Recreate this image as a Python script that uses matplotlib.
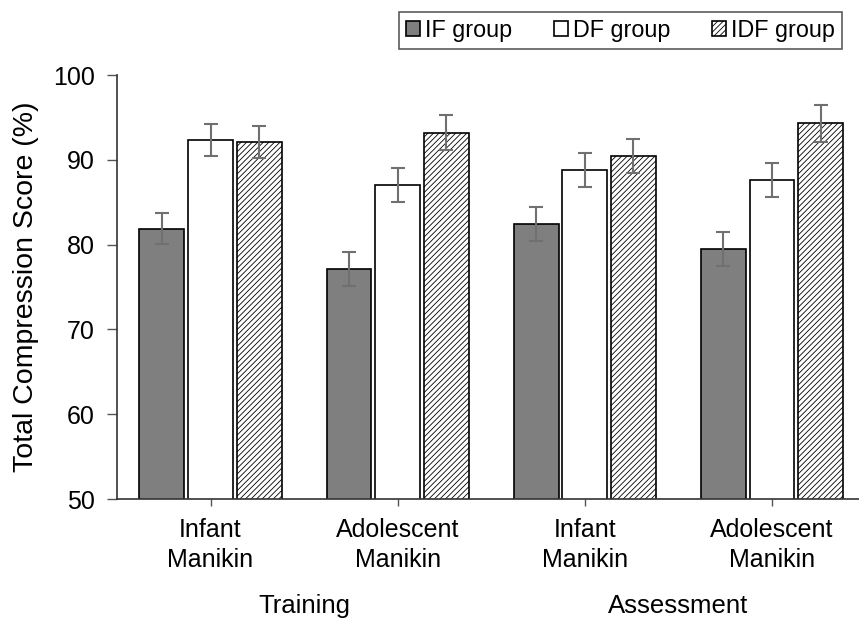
import matplotlib.pyplot as plt
import numpy as np

plt.rcParams["font.family"] = ["Liberation Sans", "DejaVu Sans"]
plt.rcParams["hatch.linewidth"] = 0.6

categories = ["Infant\nManikin", "Adolescent\nManikin", "Infant\nManikin", "Adolescent\nManikin"]
phases = ["Training", "Assessment"]
groups = ["IF group", "DF group", "IDF group"]

if_values = [81.9, 77.1, 82.4, 79.5]
df_values = [92.3, 87.0, 88.8, 87.6]
idf_values = [92.1, 93.2, 90.5, 94.3]

if_errors = [1.8, 2.0, 2.0, 2.0]
df_errors = [1.9, 2.0, 2.0, 2.0]
idf_errors = [1.9, 2.1, 2.0, 2.2]

fig = plt.figure(figsize=(8.59, 6.22), dpi=100)
ax = fig.add_axes([0.1362, 0.1977, 0.8714, 0.6817])

x = np.arange(len(categories))
width = 0.24
step = 0.26
styles = [
    dict(color="#7f7f7f", hatch=None),
    dict(color="white", hatch=None),
    dict(color="white", hatch="//////"),
]
series = [if_values, df_values, idf_values]
errors = [if_errors, df_errors, idf_errors]

handles = []
for i, (vals, errs, st) in enumerate(zip(series, errors, styles)):
    bars = ax.bar(x + (i - 1) * step, vals, width, bottom=0, color=st["color"],
                  edgecolor="black", linewidth=1.2, hatch=st["hatch"], label=groups[i],
                  yerr=errs, capsize=5,
                  error_kw=dict(ecolor="#707070", elinewidth=1.5, capthick=1.5))
    handles.append(bars)

ax.set_ylim(50, 100)
ax.set_xlim(-0.5, 3.5)
ax.set_yticks([50, 60, 70, 80, 90, 100])
ax.set_xticks(x)
ax.set_xticklabels(categories, fontsize=18, linespacing=1.3)
ax.tick_params(axis="y", labelsize=18, length=7, width=1, color="#555555", pad=9)
ax.tick_params(axis="x", length=5, width=1, color="#555555", pad=9)
ax.set_ylabel("Total Compression Score (%)", fontsize=20.5, labelpad=10)

for side in ["top", "right"]:
    ax.spines[side].set_visible(False)
for side in ["left", "bottom"]:
    ax.spines[side].set_color("#333333")
    ax.spines[side].set_linewidth(1.2)

for j, name in enumerate(phases):
    ax.text(2 * j + 0.5, -0.225, name, transform=ax.get_xaxis_transform(),
            ha="center", va="top", fontsize=18.5)

leg = fig.legend(handles=handles, loc="upper right", bbox_to_anchor=(0.980, 0.981),
                 ncol=3, fontsize=16.8, frameon=True, fancybox=False, edgecolor="#333333",
                 handlelength=0.6, handleheight=0.6, handletextpad=0.2,
                 columnspacing=1.8, borderpad=0.3, borderaxespad=0)
leg.get_frame().set_linewidth(1.2)

fig.savefig("out.png", dpi=100)
